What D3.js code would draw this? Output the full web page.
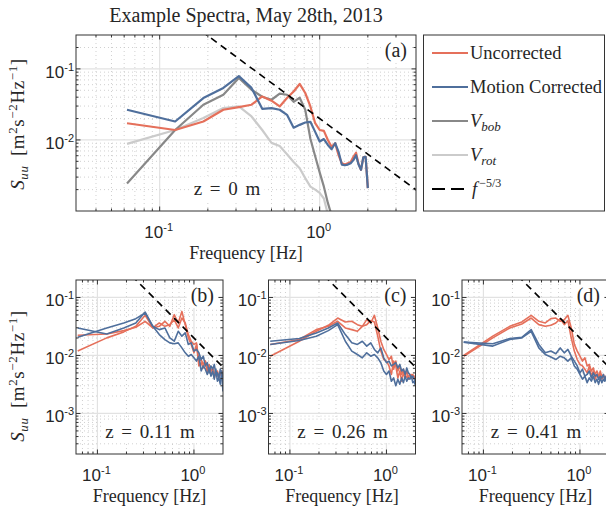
<!DOCTYPE html>
<html>
<head>
<meta charset="utf-8">
<script src="https://cdn.jsdelivr.net/npm/d3@7"></script>
<style>
  body { margin: 0; background: #fff; }
  text { fill: #262626; }
  .serif { font-family: "Liberation Serif", "DejaVu Serif", serif; }
  .sans { font-family: "Liberation Sans", Arial, sans-serif; }
</style>
</head>
<body>
<svg id="chart" width="606" height="508"></svg>
<script>
// frequency bins [Hz]
const fHz = [0.0625, 0.125, 0.1875, 0.25, 0.3125, 0.375, 0.4375, 0.5, 0.5625, 0.625, 0.6875, 0.75,
  0.8125, 0.875, 0.9375, 1.0, 1.0625, 1.125, 1.1875, 1.25, 1.3125, 1.375, 1.4375, 1.5,
  1.5625, 1.625, 1.6875, 1.75, 1.8125, 1.875, 1.9375, 2.0];

// (a) z = 0 m
const uncorrA = [0.0172, 0.0138, 0.0182, 0.0266, 0.029, 0.0313, 0.0409, 0.0357, 0.0296, 0.039, 0.048, 0.0614,
  0.0458, 0.0296, 0.0172, 0.0138, 0.0134, 0.01, 0.008, 0.009, 0.0061, 0.0047, 0.0045, 0.0047,
  0.0049, 0.0058, 0.0066, 0.0046, 0.0038, 0.0057, 0.0058, 0.0021];
const corrA = [0.0266, 0.0182, 0.0389, 0.054, 0.079, 0.054, 0.0274, 0.028, 0.0266, 0.0226, 0.0149, 0.0163,
  0.0176, 0.018, 0.013, 0.0095, 0.0103, 0.0085, 0.0074, 0.009, 0.0068, 0.0045, 0.0044, 0.0045,
  0.0047, 0.0052, 0.0061, 0.0045, 0.0038, 0.0057, 0.0058, 0.0021];
const vBob = [0.00244, 0.0138, 0.0313, 0.0432, 0.0746, 0.0509, 0.0406, 0.0368, 0.0448, 0.0433, 0.0344, 0.0393,
  0.0266, 0.0104, 0.0059, 0.0035, 0.0022, 0.0013, 0.00087, 0.0005];
const vRot = [0.0088, 0.0138, 0.0203, 0.0281, 0.0296, 0.0214, 0.0138, 0.0091, 0.0082, 0.0063, 0.0049, 0.004,
  0.0029, 0.0022, 0.002, 0.0018, 0.0015, 0.0009, 0.0005];

// (b) z = 0.11 m
const uncorrB1 = [0.0119, 0.0201, 0.0255, 0.0318, 0.0492, 0.0298, 0.0363, 0.0318, 0.034, 0.0414, 0.0298, 0.0442,
  0.0363, 0.0229, 0.0176, 0.0155, 0.0165, 0.008, 0.0085, 0.007, 0.008, 0.0058, 0.0066, 0.0054,
  0.0061, 0.005, 0.0047, 0.0054, 0.0044, 0.0047, 0.0054, 0.0036];
const uncorrB2 = [0.0223, 0.0235, 0.0268, 0.0306, 0.0388, 0.0298, 0.0318, 0.0388, 0.0318, 0.0505, 0.0363, 0.0575,
  0.034, 0.0201, 0.0155, 0.0111, 0.0155, 0.0066, 0.0075, 0.0061, 0.008, 0.005, 0.007, 0.0047,
  0.0054, 0.0041, 0.005, 0.0047, 0.0041, 0.005, 0.0047, 0.0039];
const corrB1 = [0.0298, 0.0235, 0.0298, 0.0363, 0.056, 0.0318, 0.0279, 0.0298, 0.0201, 0.0176, 0.0261, 0.0215,
  0.0245, 0.0155, 0.0165, 0.0119, 0.0127, 0.0111, 0.0085, 0.0097, 0.0066, 0.0075, 0.005, 0.0066,
  0.0058, 0.007, 0.0047, 0.005, 0.0041, 0.0058, 0.0047, 0.0024];
const corrB2 = [0.0206, 0.0298, 0.0363, 0.0431, 0.0539, 0.0318, 0.0229, 0.0188, 0.0165, 0.0159, 0.0165, 0.0135,
  0.0111, 0.0097, 0.0104, 0.0091, 0.008, 0.0097, 0.0054, 0.0066, 0.0058, 0.0047, 0.0061, 0.0044,
  0.0054, 0.0039, 0.0058, 0.0036, 0.0041, 0.0032, 0.0054, 0.0032];

// (c) z = 0.26 m
const uncorrC1 = [0.0097, 0.0176, 0.0261, 0.0331, 0.0442, 0.0378, 0.0388, 0.034, 0.0318, 0.0414, 0.0363, 0.0492,
  0.0298, 0.0176, 0.0127, 0.0104, 0.0085, 0.0097, 0.0058, 0.008, 0.0054, 0.0066, 0.0047, 0.0058,
  0.0044, 0.0054, 0.0041, 0.0047, 0.0044, 0.0047, 0.0041, 0.0041];
const uncorrC2 = [0.0155, 0.0188, 0.0279, 0.0318, 0.0388, 0.0298, 0.0279, 0.0261, 0.0318, 0.034, 0.0398, 0.0378,
  0.0215, 0.0119, 0.0085, 0.008, 0.0066, 0.0047, 0.008, 0.0066, 0.0041, 0.0054, 0.0036, 0.005,
  0.0041, 0.0044, 0.0039, 0.0041, 0.0047, 0.0041, 0.0044, 0.0036];
const corrC1 = [0.0176, 0.0196, 0.0245, 0.0298, 0.0363, 0.0229, 0.0165, 0.0155, 0.0176, 0.0145, 0.0165, 0.0127,
  0.0111, 0.0135, 0.0091, 0.0075, 0.008, 0.0066, 0.007, 0.0075, 0.0061, 0.007, 0.0054, 0.0058,
  0.0047, 0.0061, 0.005, 0.0047, 0.0041, 0.0044, 0.0039, 0.0036];
const corrC2 = [0.0155, 0.0181, 0.0215, 0.0268, 0.034, 0.0176, 0.0119, 0.0104, 0.0091, 0.0111, 0.0097, 0.0104,
  0.0091, 0.0075, 0.0054, 0.0047, 0.0054, 0.0036, 0.0041, 0.003, 0.0039, 0.0032, 0.0041, 0.0034,
  0.0044, 0.0036, 0.0041, 0.0039, 0.0044, 0.0034, 0.0036, 0.003];

// (d) z = 0.41 m
const uncorrD1 = [0.01, 0.0215, 0.0318, 0.0378, 0.0492, 0.0388, 0.0363, 0.0431, 0.0442, 0.0388, 0.0414, 0.0492,
  0.0298, 0.0155, 0.0119, 0.0097, 0.008, 0.0091, 0.0066, 0.007, 0.0054, 0.0061, 0.0047, 0.0054,
  0.0044, 0.005, 0.0041, 0.0047, 0.0039, 0.0044, 0.0041, 0.0036];
const uncorrD2 = [0.0097, 0.0201, 0.0298, 0.0349, 0.0442, 0.034, 0.0318, 0.0331, 0.0363, 0.0431, 0.034, 0.0398,
  0.0201, 0.0119, 0.0085, 0.007, 0.0066, 0.0058, 0.005, 0.0066, 0.0044, 0.0054, 0.0039, 0.0047,
  0.0041, 0.0054, 0.0039, 0.0044, 0.0041, 0.0041, 0.0039, 0.0039];
const corrD1 = [0.017, 0.0159, 0.0196, 0.0206, 0.0279, 0.0155, 0.0111, 0.0119, 0.0107, 0.0135, 0.0111, 0.0127,
  0.0097, 0.008, 0.0066, 0.005, 0.0058, 0.0044, 0.0047, 0.0054, 0.0041, 0.005, 0.0044, 0.0047,
  0.0039, 0.0044, 0.0041, 0.0047, 0.0039, 0.0044, 0.0036, 0.003];
const corrD2 = [0.017, 0.0145, 0.0188, 0.0201, 0.0261, 0.0135, 0.0104, 0.0094, 0.0085, 0.0097, 0.0091, 0.008,
  0.0091, 0.0066, 0.0058, 0.0047, 0.0039, 0.0044, 0.0034, 0.0041, 0.0036, 0.0044, 0.0034, 0.0039,
  0.0032, 0.0041, 0.0034, 0.0039, 0.0036, 0.0041, 0.0034, 0.0032];

// f^-5/3 reference: S = k * f^(-5/3)
const refCoef = 0.02;
const refExp = -5 / 3;

const panelTags = ["(a)", "(b)", "(c)", "(d)"];
const heightLabels = ["z = 0 m", "z = 0.11 m", "z = 0.26 m", "z = 0.41 m"];
const legendLabels = ["Uncorrected", "Motion Corrected", "V|bob", "V|rot", "f|-5/3"];

const RED = "#e5705b", BLUE = "#4f6f9c", GRAY = "#888888", LGRAY = "#cbcbcb";

const svg = d3.select("#chart");

let clipCount = 0;

function powLabel(sel, exp) {
  sel.append("tspan").text("10");
  sel.append("tspan").attr("dy", -7).attr("font-size", 11).text(exp);
}

function drawPanel(box, xDom, yDom, series, tag, zText, zX) {
  const x = d3.scaleLog().domain(xDom).range([box.x, box.x + box.w]);
  const y = d3.scaleLog().domain(yDom).range([box.y + box.h, box.y]);
  const g = svg.append("g");
  const id = "clip" + (clipCount++);
  g.append("clipPath").attr("id", id).append("rect")
    .attr("x", box.x).attr("y", box.y).attr("width", box.w).attr("height", box.h);

  function minors(dom) {
    let out = [];
    for (let e = Math.floor(Math.log10(dom[0])); e <= Math.ceil(Math.log10(dom[1])); e++) {
      for (let m = 1; m <= 9; m++) {
        let v = m * Math.pow(10, e);
        if (v > dom[0] * 1.0001 && v < dom[1] * 0.9999) out.push({ v: v, major: m === 1 });
      }
    }
    return out;
  }
  const xt = minors(xDom), yt = minors(yDom);

  const grid = g.append("g");
  const bg = g.append("g");
  const plot = g.append("g").attr("clip-path", `url(#${id})`);
  const front = g.append("g");

  // grid
  grid.selectAll(".gx").data(xt).enter().append("line")
    .attr("x1", d => x(d.v)).attr("x2", d => x(d.v))
    .attr("y1", box.y).attr("y2", box.y + box.h)
    .attr("stroke", d => d.major ? "#e2e2e2" : "#c4c4c4")
    .attr("stroke-width", d => d.major ? 1.2 : 0.8)
    .attr("stroke-dasharray", d => d.major ? null : "1,3");
  grid.selectAll(".gy").data(yt).enter().append("line")
    .attr("y1", d => y(d.v)).attr("y2", d => y(d.v))
    .attr("x1", box.x).attr("x2", box.x + box.w)
    .attr("stroke", d => d.major ? "#e2e2e2" : "#c4c4c4")
    .attr("stroke-width", d => d.major ? 1.2 : 0.8)
    .attr("stroke-dasharray", d => d.major ? null : "1,3");

  // lines
  const line = d3.line().x((d, i) => x(fHz[i])).y(d => y(d));
  series.forEach(s => {
    plot.append("path").attr("d", line(s.values)).attr("fill", "none")
      .attr("stroke", s.color).attr("stroke-width", s.width)
      .attr("stroke-linejoin", "round");
  });
  const refF = [xDom[0] * 0.5, xDom[1] * 2];
  plot.append("path")
    .attr("d", d3.line().x(f => x(f)).y(f => y(refCoef * Math.pow(f, refExp)))(refF))
    .attr("fill", "none").attr("stroke", "#000").attr("stroke-width", 1.6)
    .attr("stroke-dasharray", "7,5");

  // texts with white boxes
  function boxedText(tx, ty, anchor, txt, fs) {
    const t = front.append("text").attr("class", "serif").attr("x", tx).attr("y", ty)
      .attr("text-anchor", anchor).attr("font-size", fs).attr("word-spacing", 3).text(txt);
    const bb = t.node().getBBox();
    bg.append("rect").attr("x", bb.x - 4).attr("y", bb.y - 1)
      .attr("width", bb.width + 8).attr("height", bb.height + 2).attr("fill", "#fff");
  }
  boxedText(box.x + box.w - 9, box.y + 22, "end", tag, 20);
  boxedText(zX, box.y + box.h - 16, "middle", zText, 19);

  // frame and inward ticks
  front.append("rect").attr("x", box.x).attr("y", box.y).attr("width", box.w).attr("height", box.h)
    .attr("fill", "none").attr("stroke", "#333").attr("stroke-width", 1);
  const tk = d => d.major ? 4.5 : 2.5;
  xt.forEach(d => {
    front.append("line").attr("x1", x(d.v)).attr("x2", x(d.v))
      .attr("y1", box.y + box.h).attr("y2", box.y + box.h - tk(d)).attr("stroke", "#333");
    front.append("line").attr("x1", x(d.v)).attr("x2", x(d.v))
      .attr("y1", box.y).attr("y2", box.y + tk(d)).attr("stroke", "#333");
  });
  yt.forEach(d => {
    front.append("line").attr("y1", y(d.v)).attr("y2", y(d.v))
      .attr("x1", box.x).attr("x2", box.x + tk(d)).attr("stroke", "#333");
    front.append("line").attr("y1", y(d.v)).attr("y2", y(d.v))
      .attr("x1", box.x + box.w).attr("x2", box.x + box.w - tk(d)).attr("stroke", "#333");
  });

  // tick labels
  xt.filter(d => d.major).forEach(d => {
    const t = front.append("text").attr("class", "sans").attr("font-size", 17)
      .attr("x", x(d.v) - 1).attr("y", box.y + box.h + 27).attr("text-anchor", "middle");
    powLabel(t, String(Math.round(Math.log10(d.v))));
  });
  yt.filter(d => d.major).forEach(d => {
    const t = front.append("text").attr("class", "sans").attr("font-size", 17)
      .attr("x", box.x - 2).attr("y", y(d.v) + 9).attr("text-anchor", "end");
    powLabel(t, String(Math.round(Math.log10(d.v))));
  });

  // x label
  front.append("text").attr("class", "serif").attr("font-size", 18)
    .attr("x", box.x + box.w / 2).attr("y", box.y + box.h + 48)
    .attr("text-anchor", "middle").text("Frequency [Hz]");
}

function yLabel(cx, cy) {
  const t = svg.append("text").attr("class", "serif").attr("font-size", 19)
    .attr("word-spacing", 4).attr("letter-spacing", 0.6)
    .attr("transform", `translate(${cx},${cy}) rotate(-90)`).attr("text-anchor", "middle");
  t.append("tspan").attr("font-style", "italic").text("S");
  t.append("tspan").attr("font-style", "italic").attr("font-size", 13).attr("dy", 4).text("uu");
  t.append("tspan").attr("dy", -4).text(" [m");
  t.append("tspan").attr("font-size", 13).attr("dy", -7).text("2");
  t.append("tspan").attr("dy", 7).text("s");
  t.append("tspan").attr("font-size", 13).attr("dy", -7).text("\u22122");
  t.append("tspan").attr("dy", 7).text("Hz");
  t.append("tspan").attr("font-size", 13).attr("dy", -7).text("\u22121");
  t.append("tspan").attr("dy", 7).text("]");
}

// title
svg.append("text").attr("class", "serif").attr("font-size", 20)
  .attr("x", 246).attr("y", 22).attr("text-anchor", "middle")
  .text("Example Spectra, May 28th, 2013");

// (a)
drawPanel({ x: 76, y: 35, w: 340, h: 176 }, [0.03, 4], [0.001, 0.3], [
  { values: vRot, color: LGRAY, width: 2.2 },
  { values: vBob, color: GRAY, width: 2.2 },
  { values: uncorrA, color: RED, width: 2.2 },
  { values: corrA, color: BLUE, width: 2.2 }
], panelTags[0], heightLabels[0], 227);
yLabel(24, 124);

// (b)-(d)
const bottomSets = [
  [uncorrB1, uncorrB2, corrB1, corrB2],
  [uncorrC1, uncorrC2, corrC1, corrC2],
  [uncorrD1, uncorrD2, corrD1, corrD2]
];
const bottomLeft = [76, 268.5, 462];
bottomSets.forEach((set, i) => {
  const bx = bottomLeft[i];
  drawPanel({ x: bx, y: 280, w: 147, h: 174 }, [0.06, 2], [0.0002, 0.2], [
    { values: set[0], color: RED, width: 1.6 },
    { values: set[1], color: RED, width: 1.6 },
    { values: set[2], color: BLUE, width: 1.6 },
    { values: set[3], color: BLUE, width: 1.6 }
  ], panelTags[i + 1], heightLabels[i + 1], bx + 74);
});
yLabel(24, 376);

// legend
const lg = svg.append("g");
lg.append("rect").attr("x", 423.5).attr("y", 35).attr("width", 181).attr("height", 176)
  .attr("fill", "#fff").attr("stroke", "#333").attr("stroke-width", 1);
const legendStyles = [
  { color: RED, dash: null, end: 468 }, { color: BLUE, dash: null, end: 468 },
  { color: GRAY, dash: null, end: 468 }, { color: LGRAY, dash: null, end: 468 },
  { color: "#000", dash: "13,6", end: 464 }
];
const legendY = [53, 87, 121, 155, 189];
legendLabels.forEach((lab, i) => {
  lg.append("line").attr("x1", 432).attr("x2", legendStyles[i].end)
    .attr("y1", legendY[i]).attr("y2", legendY[i])
    .attr("stroke", legendStyles[i].color).attr("stroke-width", 2)
    .attr("stroke-dasharray", legendStyles[i].dash);
  const t = lg.append("text").attr("class", "serif").attr("font-size", 18.5)
    .attr("x", 470).attr("y", legendY[i] + 6);
  const parts = lab.split("|");
  if (parts.length === 1) {
    t.text(lab);
  } else if (parts[0] === "V") {
    t.append("tspan").attr("font-style", "italic").text("V");
    t.append("tspan").attr("font-style", "italic").attr("font-size", 13).attr("dy", 4).text(parts[1]);
  } else {
    t.attr("x", 472);
    t.append("tspan").attr("font-style", "italic").text("f");
    t.append("tspan").attr("font-size", 12).attr("dx", 2).attr("dy", -8).text("\u2212" + parts[1].slice(1));
  }
});
</script>
</body>
</html>
